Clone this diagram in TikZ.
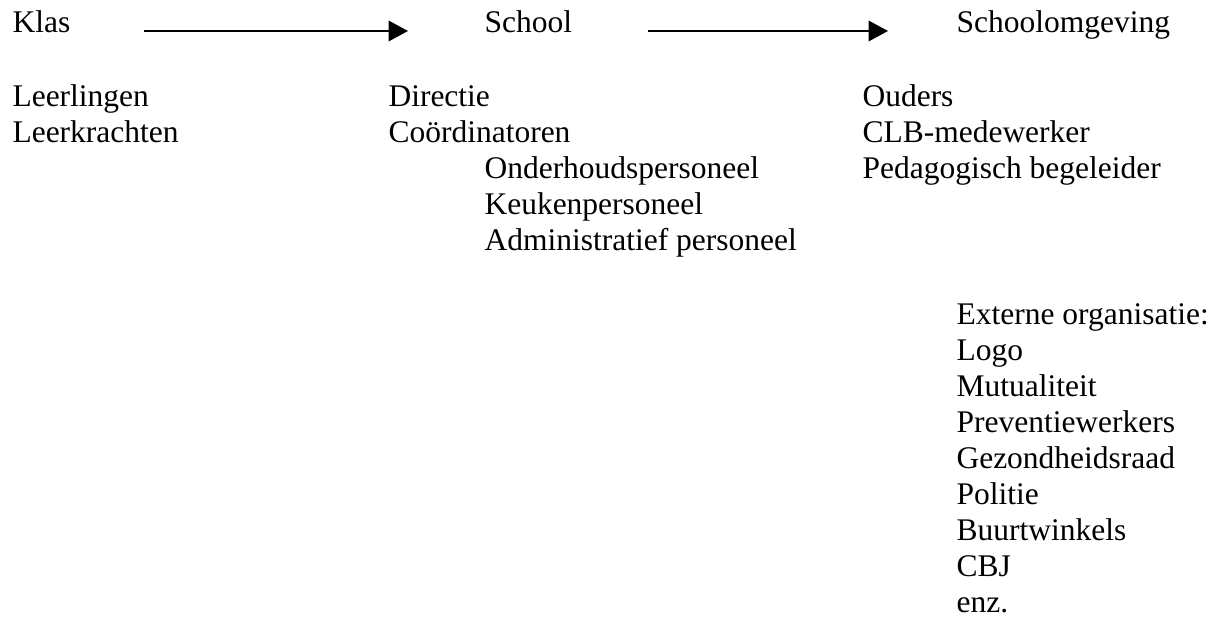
\documentclass[tikz,border=0pt]{standalone}
\usepackage{fontspec}
\setmainfont{Liberation Serif}
\usepackage{tikz}
\usetikzlibrary{arrows.meta}

\begin{document}
\begin{tikzpicture}[x=0.381pt, y=-0.381pt, font=\fontsize{12pt}{13.8pt}\selectfont,
        lbl/.style={anchor=base west, inner sep=0pt}]
        \useasboundingbox (0,0) rectangle (1221,624);

        % kolomkoppen
        \node[lbl] (klas) at (12,33) {Klas};
        \node[lbl] (school) at (484,33) {School};
        \node[lbl] (omgeving) at (956,33) {Schoolomgeving};

        % klas
        \node[lbl] (ll) at (12,107) {Leerlingen};
        \node[lbl] (lk) at (12,143) {Leerkrachten};

        % school
        \node[lbl] (dir) at (388,107) {Directie};
        \node[lbl] (coo) at (388,143) {Coördinatoren};
        \node[lbl] (ond) at (484,179) {Onderhoudspersoneel};
        \node[lbl] (keu) at (484,215) {Keukenpersoneel};
        \node[lbl] (adm) at (484,251) {Administratief personeel};

        % schoolomgeving
        \node[lbl] (oud) at (862,107) {Ouders};
        \node[lbl] (clb) at (862,143) {CLB-medewerker};
        \node[lbl] (ped) at (862,179) {Pedagogisch begeleider};

        \node[lbl] (ext) at (956,325) {Externe organisatie:};
        \foreach \n/\t [count=\k] in {logo/Logo, mut/Mutualiteit, prev/Preventiewerkers,
            gez/Gezondheidsraad, pol/Politie, buurt/Buurtwinkels, cbj/CBJ, enz/enz.}
            \node[lbl] (\n) at (956,325+36*\k) {\t};

        \coordinate (a1) at (144,31);
        \coordinate (b1) at (408,31);
        \coordinate (a2) at (648,31);
        \coordinate (b2) at (888,31);
        \foreach \i/\j in {a1/b1, a2/b2}
            \draw[line width=0.8pt, -{Triangle[length=7.4pt, width=7.8pt]}] (\i) -- (\j);
\end{tikzpicture}
\end{document}
